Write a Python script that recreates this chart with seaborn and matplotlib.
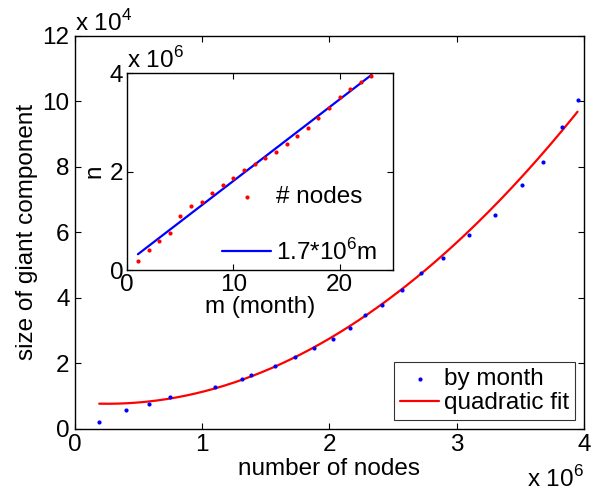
import numpy as np
import pandas as pd
import seaborn as sns
import matplotlib
matplotlib.use("Agg")
import matplotlib.pyplot as plt
from matplotlib.ticker import FuncFormatter

# months and node counts (x 1e6), giant component size (x 1e4)
months = list(range(1, 24))
nodes_m = [0.19, 0.40, 0.58, 0.75, 1.10, 1.31, 1.38, 1.57, 1.73, 1.88, 2.03, 2.16,
           2.28, 2.41, 2.57, 2.72, 2.89, 3.10, 3.30, 3.51, 3.68, 3.83, 3.95]
giant_e4 = [0.20, 0.57, 0.76, 0.98, 1.28, 1.53, 1.66, 1.93, 2.18, 2.46, 2.74, 3.08,
            3.49, 3.78, 4.24, 4.75, 5.22, 5.91, 6.53, 7.45, 8.16, 9.21, 10.05]
# quadratic fit as drawn (x in 1e6, y in 1e4)
quad_coef = [0.652, -0.329, 0.809]

df = pd.DataFrame({"month": months,
                   "nodes": np.array(nodes_m) * 1e6,
                   "giant": np.array(giant_e4) * 1e4})

xs = np.linspace(min(nodes_m), max(nodes_m), 200)
fit_df = pd.DataFrame({"x": xs * 1e6, "y": np.polyval(quad_coef, xs) * 1e4})
lin = np.polyfit(df["month"], df["nodes"], 1)
lin_df = pd.DataFrame({"m": df["month"], "n": np.polyval(lin, df["month"])})

sns.set_theme(style="ticks")
plt.rcParams['font.family'] = ['Liberation Sans', 'DejaVu Sans']
plt.rcParams['mathtext.fontset'] = 'custom'
plt.rcParams['mathtext.rm'] = 'Liberation Sans'
plt.rcParams['xtick.direction'] = 'in'
plt.rcParams['ytick.direction'] = 'in'
for k in ['text.color', 'axes.labelcolor', 'xtick.color', 'ytick.color',
          'xtick.labelcolor', 'ytick.labelcolor']:
    plt.rcParams[k] = 'black'

fs = 17.5
fig = plt.figure(figsize=(5.91, 4.97), dpi=100)
ax = fig.add_axes([0.127, 0.137, 0.861, 0.791])

sns.scatterplot(data=df, x="nodes", y="giant", ax=ax, color="blue", marker="o",
                s=9, linewidth=0, label="by month", zorder=3)
sns.lineplot(data=fit_df, x="x", y="y", ax=ax, color="red", lw=1.6,
             label="quadratic fit")
ax.set_xlim(0, 4e6)
ax.set_ylim(0, 12e4)
ax.set_xticks(np.arange(0, 4.1e6, 1e6))
ax.set_yticks(np.arange(0, 12.1e4, 2e4))
ax.xaxis.set_major_formatter(FuncFormatter(lambda v, p: f"{v/1e6:g}"))
ax.yaxis.set_major_formatter(FuncFormatter(lambda v, p: f"{v/1e4:g}"))
ax.tick_params(labelsize=fs, top=True, right=True, length=4, width=0.8,
               color="black", pad=4)
ax.set_xlabel("number of nodes", fontsize=fs, labelpad=1)
ax.set_ylabel("size of giant component", fontsize=fs, labelpad=3)
for s in ax.spines.values():
    s.set_linewidth(1.0)
    s.set_color("black")
ax.text(0.0, 1.0, r"x 10$^4$", transform=ax.transAxes, fontsize=fs, va="bottom", ha="left")
ax.text(1.0, -0.095, r"x 10$^6$", transform=ax.transAxes, fontsize=fs, va="top", ha="right")
leg = ax.legend(loc="lower right", fontsize=fs, frameon=True, fancybox=False,
                handlelength=1.6, handletextpad=0.2, borderpad=0.25, labelspacing=0.1,
                borderaxespad=0.35, markerscale=1.0)
leg.get_frame().set_edgecolor("black")
leg.get_frame().set_linewidth(0.8)

# inset
ins = fig.add_axes([0.2154, 0.4567, 0.4491, 0.3958])
sns.scatterplot(data=df, x="month", y="nodes", ax=ins, color="red", marker="o",
                s=9, linewidth=0, label="# nodes", zorder=3)
sns.lineplot(data=lin_df, x="m", y="n", ax=ins, color="blue", lw=1.6,
             label=r"1.7*10$^6$m")
ins.set_xlim(0, 25)
ins.set_ylim(0, 4e6)
ins.set_xticks([0, 10, 20])
ins.set_yticks([0, 2e6, 4e6])
ins.yaxis.set_major_formatter(FuncFormatter(lambda v, p: f"{v/1e6:g}"))
ins.tick_params(labelsize=fs, top=True, right=True, length=4, width=0.8,
                color="black", pad=3)
ins.set_xlabel("m (month)", fontsize=fs, labelpad=0)
ins.set_ylabel("n", fontsize=fs, labelpad=3)
for s in ins.spines.values():
    s.set_linewidth(1.0)
    s.set_color("black")
ins.text(0.0, 1.0, r"x 10$^6$", transform=ins.transAxes, fontsize=fs, va="bottom", ha="left")
ins.legend(loc="lower right", bbox_to_anchor=(0.99, -0.04), fontsize=fs, frameon=False,
           handlelength=2.0, handletextpad=0.2, labelspacing=1.25, borderaxespad=0.15)

fig.savefig("out.png", dpi=100)
